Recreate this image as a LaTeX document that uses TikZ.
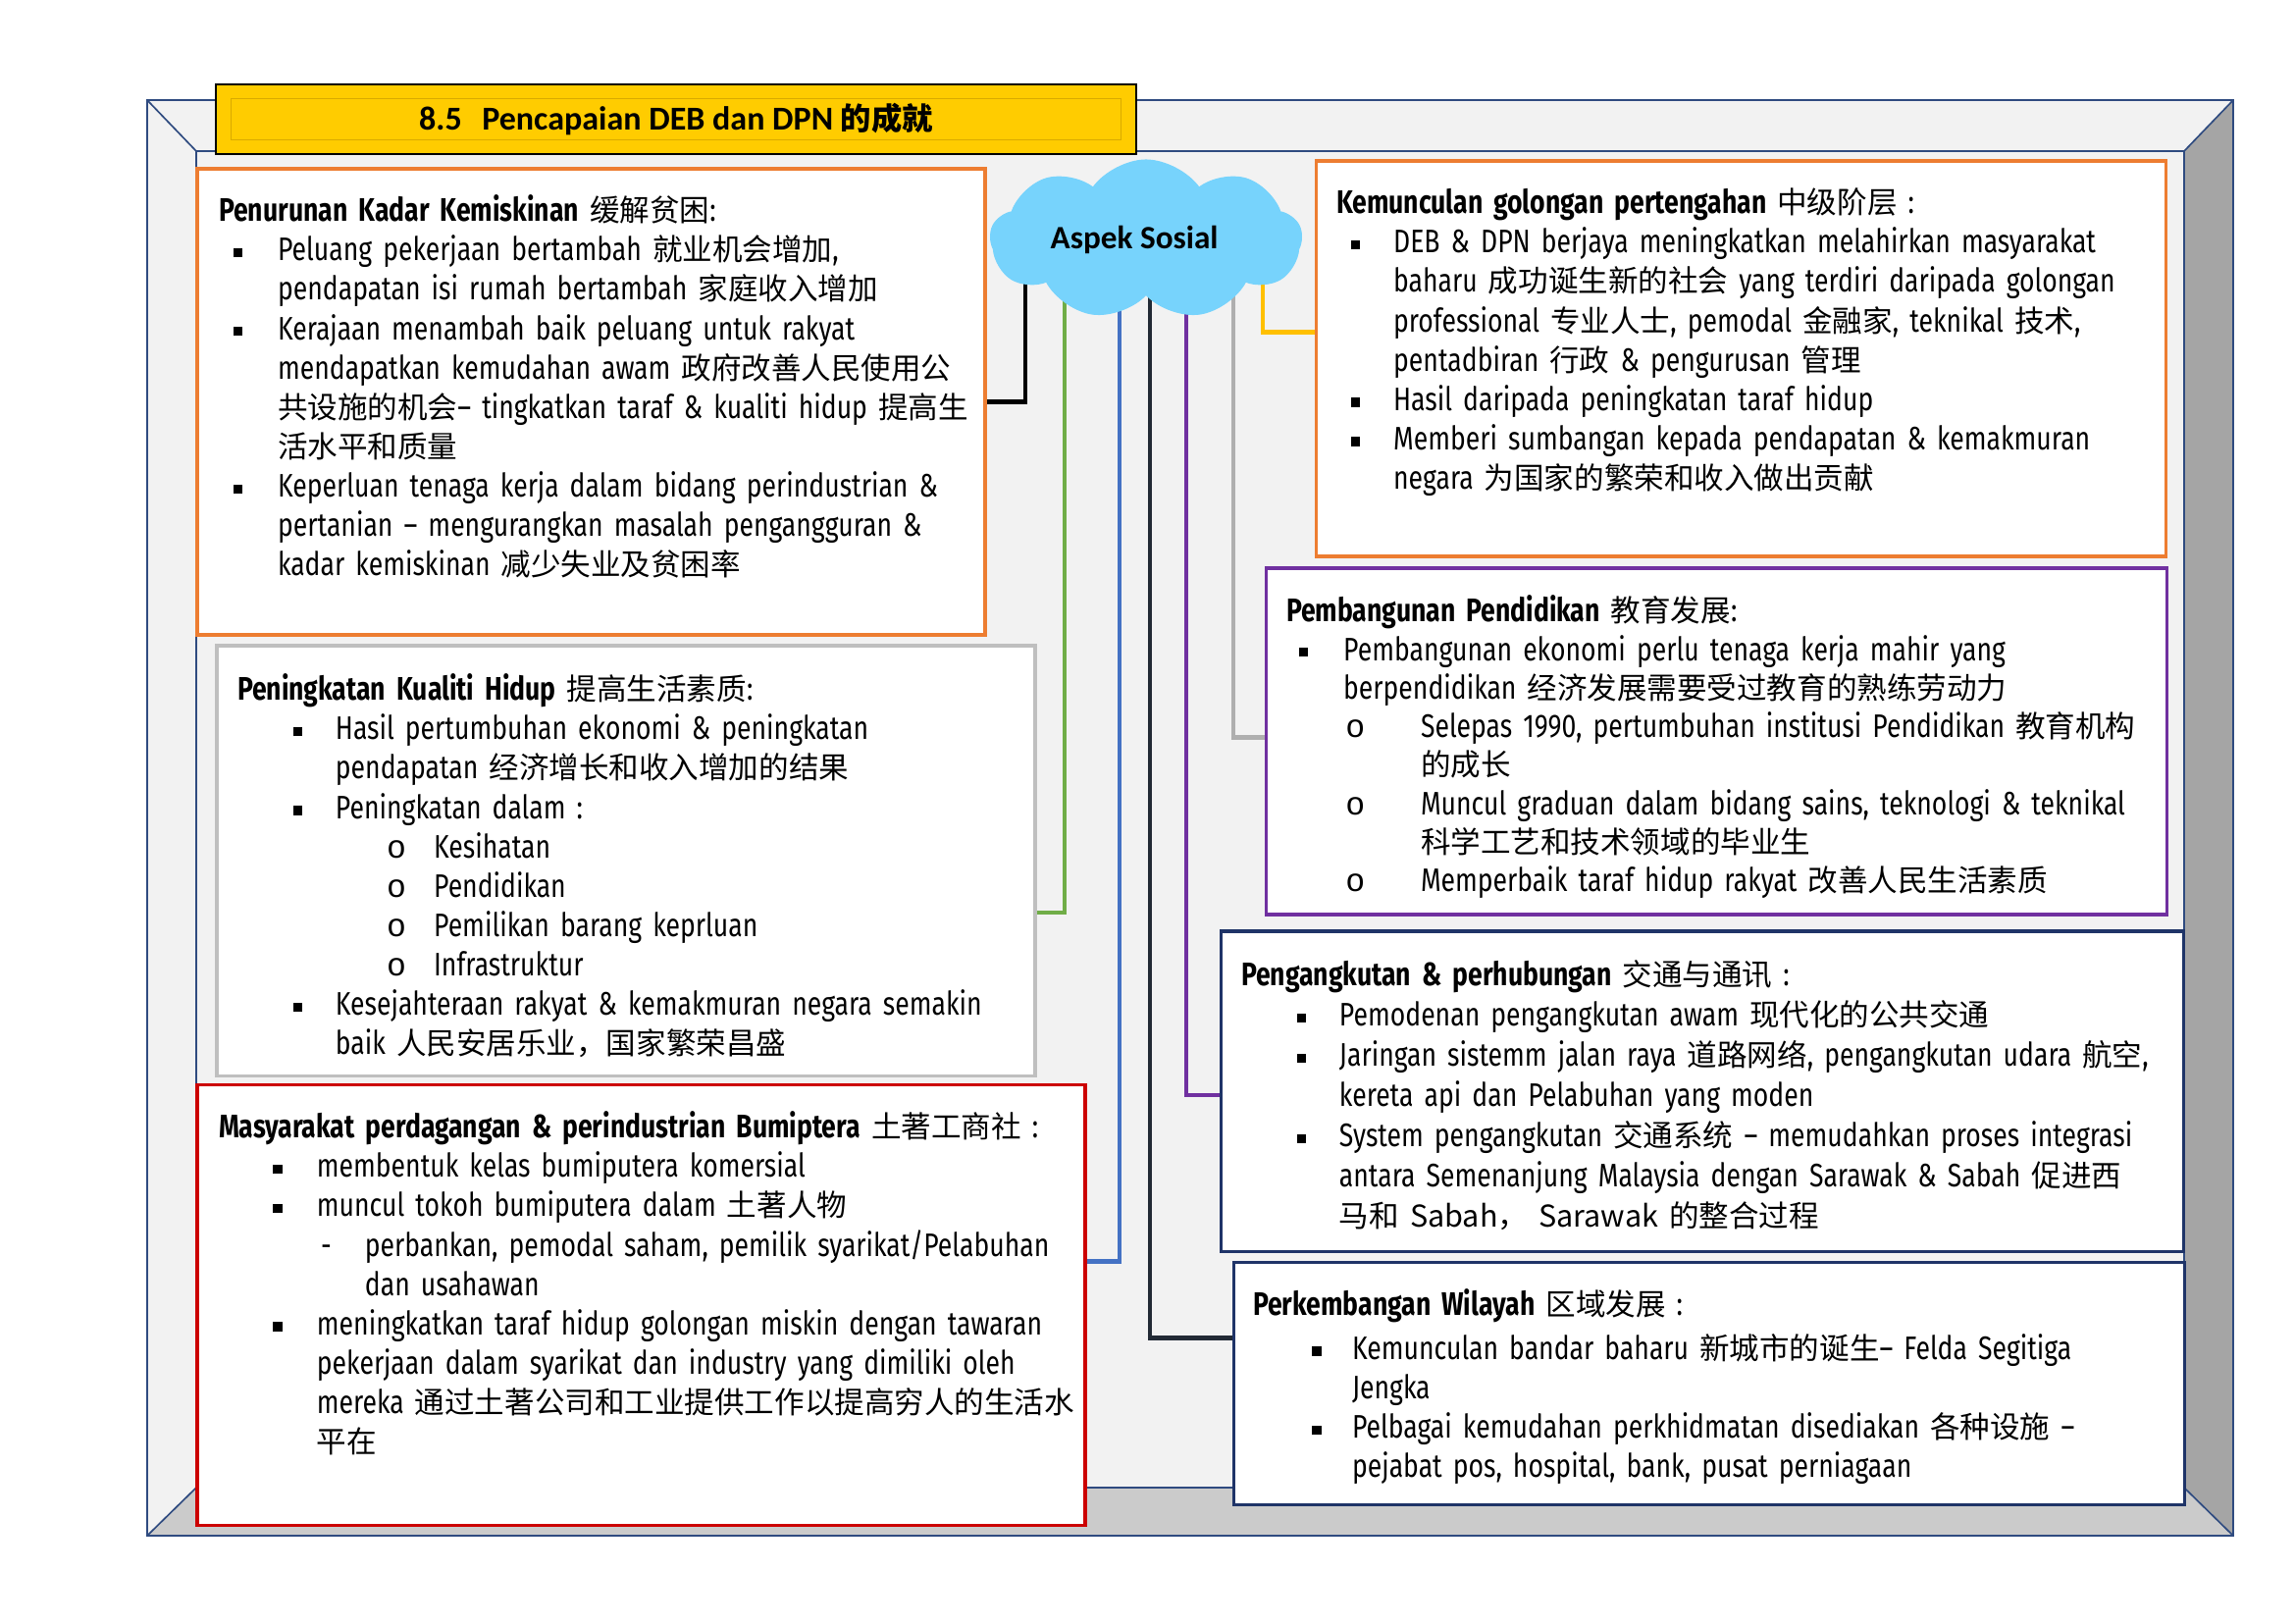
\documentclass[tikz,border=0pt]{standalone}
\usepackage{fontspec}
\setmainfont{Fira Sans}[FakeStretch=0.8]
\newfontfamily\cjk{Noto Sans CJK SC}[Scale=0.92]
\newfontfamily\calib{Carlito}
\newfontfamily\mono{Liberation Mono}
\usetikzlibrary{positioning, shapes.symbols, fit, backgrounds, calc}

\definecolor{frameline}{HTML}{2F4B80}
\definecolor{faceg}{HTML}{F2F2F2}
\definecolor{sideg}{HTML}{A5A5A5}
\definecolor{baseg}{HTML}{CBCBCB}
\definecolor{bannery}{HTML}{FFCC00}
\definecolor{bannerd}{HTML}{D9AA00}
\definecolor{orangeb}{HTML}{ED7D31}
\definecolor{purpleb}{HTML}{7030A0}
\definecolor{grayb}{HTML}{BFBFBF}
\definecolor{redb}{HTML}{CC0000}
\definecolor{navyb}{HTML}{1F3468}
\definecolor{skyb}{HTML}{77D3FC}
\definecolor{greenl}{HTML}{70AD47}
\definecolor{bluel}{HTML}{4472C4}
\definecolor{navyl}{HTML}{222A35}
\definecolor{grayl}{HTML}{AFAFAF}
\definecolor{goldl}{HTML}{FFC000}

\newcommand\zh[1]{{\cjk #1}}
\newcommand\sqbul{\rule[1.3pt]{3.4pt}{3.4pt}}
\newcommand\circbul{{\mono o}}
\newcommand\hdline[1]{\noindent\rule{0pt}{10pt}#1}
\newcommand\bulline[4]{\par\noindent\makebox[#2][l]{\hspace*{#1}#3}#4}
\newcommand\contline[2]{\par\noindent\hspace*{#1}#2}

\begin{document}
\begin{tikzpicture}[x=0.127mm, y=-0.127mm,
    card/.style={draw=#1, line width=1.1pt, fill=white, inner sep=0pt},
    notes/.style={anchor=north west, inner sep=0pt, text width=420pt, align=left,
                  font=\fontsize{12pt}{14.5pt}\selectfont},
    banner/.style={draw=black, line width=1pt, fill=bannery, inner sep=0pt,
                   font=\calib\bfseries\fontsize{12.3pt}{15pt}\selectfont},
    bubble/.style={cloud, cloud puffs=9, cloud puff arc=110, aspect=1.96, fill=skyb, draw=skyb,
                   inner sep=0pt, font=\calib\bfseries\fontsize{12pt}{14pt}\selectfont},
    link/.style={draw=#1, line width=1.5pt}]

    \useasboundingbox (0,0) rectangle (2339,1654);

    % Title banner
    \node[banner, minimum width=938*0.127mm, minimum height=71*0.127mm] (judul) at (689,121.5)
        {8.5\hspace{0.6em}Pencapaian DEB dan DPN \zh{\bfseries 的成就}};
    \draw[bannerd, line width=0.6pt] ([shift={(17,16)}]judul.north west) rectangle ([shift={(-17,-16)}]judul.south east);

    % Boxes - left column
    \node[card=orangeb, fit={(201,172) (1004,647)}] (kemiskinan) {};
    \node[card=grayb, fit={(221,658) (1055,1096)}] (kualiti) {};
    \node[card=redb, fit={(201,1105) (1106,1554)}] (bumiputera) {};

    % Boxes - right column
    \node[card=orangeb, fit={(1341,164) (2207,567)}] (pertengahan) {};
    \node[card=purpleb, fit={(1290,579) (2208,932)}] (pendidikan) {};
    \node[card=navyb, fit={(1244,949) (2225,1275)}] (pengangkutan) {};
    \node[card=navyb, fit={(1257,1286) (2226,1533)}] (wilayah) {};

    % Box texts
    \node[notes] (kemiskinan-txt) at ([shift={(23,27)}]kemiskinan.north west) {%
        \hdline{\textbf{Penurunan Kadar Kemiskinan} \zh{缓解贫困}:}
        \bulline{5.4pt}{21.7pt}{\sqbul}{Peluang pekerjaan bertambah \zh{就业机会增加},}
        \contline{21.7pt}{pendapatan isi rumah bertambah \zh{家庭收入增加}}
        \bulline{5.4pt}{21.7pt}{\sqbul}{Kerajaan menambah baik peluang untuk rakyat}
        \contline{21.7pt}{mendapatkan kemudahan awam \zh{政府改善人民使用公}}
        \contline{21.7pt}{\zh{共设施的机会}– tingkatkan taraf \& kualiti hidup \zh{提高生}}
        \contline{21.7pt}{\zh{活水平和质量}}
        \bulline{5.4pt}{21.7pt}{\sqbul}{Keperluan tenaga kerja dalam bidang perindustrian \&}
        \contline{21.7pt}{pertanian – mengurangkan masalah pengangguran \&}
        \contline{21.7pt}{kadar kemiskinan \zh{减少失业及贫困率}}};

    \node[notes] (kualiti-txt) at ([shift={(22,29)}]kualiti.north west) {%
        \hdline{\textbf{Peningkatan Kualiti Hidup} \zh{提高生活素质}:}
        \bulline{20.6pt}{36.1pt}{\sqbul}{Hasil pertumbuhan ekonomi \& peningkatan}
        \contline{36.1pt}{pendapatan \zh{经济增长和收入增加的结果}}
        \bulline{20.6pt}{36.1pt}{\sqbul}{Peningkatan dalam :}
        \bulline{55pt}{72.3pt}{\circbul}{Kesihatan}
        \bulline{55pt}{72.3pt}{\circbul}{Pendidikan}
        \bulline{55pt}{72.3pt}{\circbul}{Pemilikan barang keprluan}
        \bulline{55pt}{72.3pt}{\circbul}{Infrastruktur}
        \bulline{20.6pt}{36.1pt}{\sqbul}{Kesejahteraan rakyat \& kemakmuran negara semakin}
        \contline{36.1pt}{baik \zh{人民安居乐业，国家繁荣昌盛}}};

    \node[notes] (bumiputera-txt) at ([shift={(23,28)}]bumiputera.north west) {%
        \hdline{\textbf{Masyarakat perdagangan \& perindustrian Bumiptera} \zh{土著工商社} :}
        \bulline{19.9pt}{36.1pt}{\sqbul}{membentuk kelas bumiputera komersial}
        \bulline{19.9pt}{36.1pt}{\sqbul}{muncul tokoh bumiputera dalam \zh{土著人物}}
        \bulline{37.6pt}{53.8pt}{-}{perbankan, pemodal saham, pemilik syarikat/Pelabuhan}
        \contline{53.8pt}{dan usahawan}
        \bulline{19.9pt}{36.1pt}{\sqbul}{meningkatkan taraf hidup golongan miskin dengan tawaran}
        \contline{36.1pt}{pekerjaan dalam syarikat dan industry yang dimiliki oleh}
        \contline{36.1pt}{mereka \zh{通过土著公司和工业提供工作以提高穷人的生活水}}
        \contline{36.1pt}{\zh{平在}}};

    \node[notes] (pertengahan-txt) at ([shift={(22,27)}]pertengahan.north west) {%
        \hdline{\textbf{Kemunculan golongan pertengahan} \zh{中级阶层} :}
        \bulline{5.4pt}{21pt}{\sqbul}{DEB \& DPN berjaya meningkatkan melahirkan masyarakat}
        \contline{21pt}{baharu \zh{成功诞生新的社会} yang terdiri daripada golongan}
        \contline{21pt}{professional \zh{专业人士}, pemodal \zh{金融家}, teknikal \zh{技术},}
        \contline{21pt}{pentadbiran \zh{行政} \& pengurusan \zh{管理}}
        \bulline{5.4pt}{21pt}{\sqbul}{Hasil daripada peningkatan taraf hidup}
        \bulline{5.4pt}{21pt}{\sqbul}{Memberi sumbangan kepada pendapatan \& kemakmuran}
        \contline{21pt}{negara \zh{为国家的繁荣和收入做出贡献}}};

    \node[notes, font=\fontsize{12pt}{14.2pt}\selectfont] (pendidikan-txt) at ([shift={(22,28)}]pendidikan.north west) {%
        \hdline{\textbf{Pembangunan Pendidikan} \zh{教育发展}:}
        \bulline{4.7pt}{21pt}{\sqbul}{Pembangunan ekonomi perlu tenaga kerja mahir yang}
        \contline{21pt}{berpendidikan \zh{经济发展需要受过教育的熟练劳动力}}
        \bulline{21.8pt}{49.5pt}{\circbul}{Selepas 1990, pertumbuhan institusi Pendidikan \zh{教育机构}}
        \contline{49.5pt}{\zh{的成长}}
        \bulline{21.8pt}{49.5pt}{\circbul}{Muncul graduan dalam bidang sains, teknologi \& teknikal}
        \contline{49.5pt}{\zh{科学工艺和技术领域的毕业生}}
        \bulline{21.8pt}{49.5pt}{\circbul}{Memperbaik taraf hidup rakyat \zh{改善人民生活素质}}};

    \node[notes, font=\fontsize{12pt}{14.8pt}\selectfont] (pengangkutan-txt) at ([shift={(22,29)}]pengangkutan.north west) {%
        \hdline{\textbf{Pengangkutan \& perhubungan} \zh{交通与通讯} :}
        \bulline{20.6pt}{36.1pt}{\sqbul}{Pemodenan pengangkutan awam \zh{现代化的公共交通}}
        \bulline{20.6pt}{36.1pt}{\sqbul}{Jaringan sistemm jalan raya \zh{道路网络}, pengangkutan udara \zh{航空},}
        \contline{36.1pt}{kereta api dan Pelabuhan yang moden}
        \bulline{20.6pt}{36.1pt}{\sqbul}{System pengangkutan \zh{交通系统} – memudahkan proses integrasi}
        \contline{36.1pt}{antara Semenanjung Malaysia dengan Sarawak \& Sabah \zh{促进西}}
        \contline{36.1pt}{\zh{马和 Sabah， Sarawak 的整合过程}}};

    \node[notes] (wilayah-txt) at ([shift={(21,28)}]wilayah.north west) {%
        \hdline{\textbf{Perkembangan Wilayah} \zh{区域发展} :}\par\vspace{1.6pt}
        \bulline{21.7pt}{36.5pt}{\sqbul}{Kemunculan bandar baharu \zh{新城市的诞生}– Felda Segitiga}
        \contline{36.5pt}{Jengka}
        \bulline{21.7pt}{36.5pt}{\sqbul}{Pelbagai kemudahan perkhidmatan disediakan \zh{各种设施} –}
        \contline{36.5pt}{pejabat pos, hospital, bank, pusat perniagaan}};

    % Hub cloud
    \node[bubble, minimum width=317*0.127mm, minimum height=162*0.127mm] (sosial) at (1168,244)
        {\makebox[0pt]{\hspace*{-8.6pt}\raisebox{-1.6pt}{Aspek Sosial}}};

    \begin{scope}[on background layer]
        % Bevel frame
        \fill[faceg] (150,102) rectangle (2276,1565);
        \fill[sideg] (2276,102) -- (2276,1565) -- (2226,1516) -- (2226,154) -- cycle;
        \fill[baseg] (150,1565) -- (2276,1565) -- (2226,1516) -- (200,1516) -- cycle;
        \draw[frameline, line width=0.6pt] (150,102) rectangle (2276,1565) (200,154) rectangle (2226,1516)
            (150,102) -- (200,154) (2276,102) -- (2226,154) (2276,1565) -- (2226,1516) (150,1565) -- (200,1516);

        % Connectors from the cloud
        \draw[link=black] ($(sosial.center)+(-123,0)$) |- (kemiskinan.east);
        \draw[link=greenl] ($(sosial.center)+(-83,0)$) |- ([shift={(0,53)}]kualiti.east);
        \draw[link=bluel] ($(sosial.center)+(-27,0)$) |- ([shift={(0,-44)}]bumiputera.east);
        \draw[link=navyl] ($(sosial.center)+(4,0)$) |- ([shift={(0,-46)}]wilayah.west);
        \draw[link=purpleb] ($(sosial.center)+(41,0)$) |- ([shift={(0,4)}]pengangkutan.west);
        \draw[link=grayl] ($(sosial.center)+(89,0)$) |- ([shift={(0,-4)}]pendidikan.west);
        \draw[link=goldl] ($(sosial.center)+(119,0)$) |- ([shift={(0,-27)}]pertengahan.west);
    \end{scope}
\end{tikzpicture}
\end{document}
